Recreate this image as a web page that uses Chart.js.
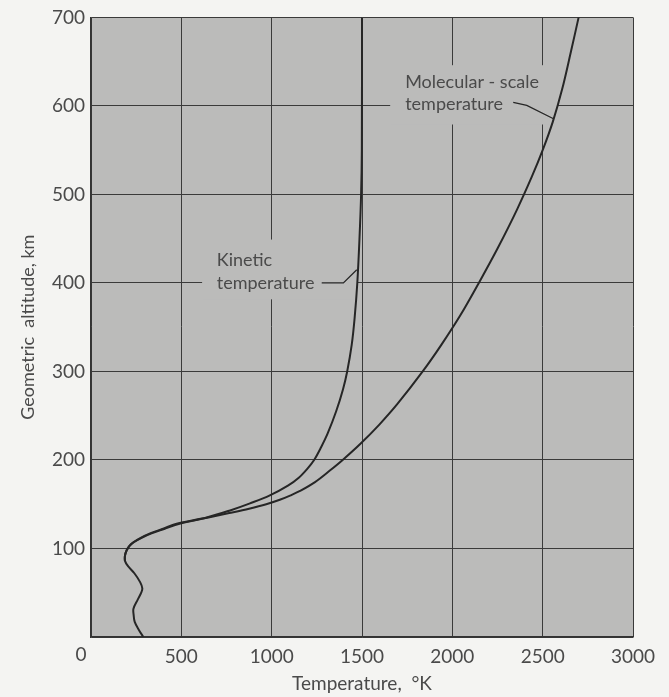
<!DOCTYPE html>
<html>
<head>
<meta charset="utf-8">
<script src="https://cdn.jsdelivr.net/npm/chart.js@4"></script>
<style>
  html, body { margin: 0; padding: 0; background: #f4f4f2; }
  canvas { display: block; }
</style>
</head>
<body>
<canvas id="c" width="669" height="697"></canvas>
<script>
// ---- Data ----
const xTickValues = [0, 500, 1000, 1500, 2000, 2500, 3000];
const yTickValues = [0, 100, 200, 300, 400, 500, 600, 700];

// Kinetic temperature: altitude (km) and temperature (K)
const kineticAlt  = [0, 8, 17, 25, 32, 42, 50, 55, 62, 72, 80, 86, 92, 98, 103, 107, 112, 117, 122, 128, 135, 143, 151, 160, 171, 180, 190, 200, 215, 230, 255, 280, 300, 330, 360, 400, 450, 500, 550, 700];
const kineticTemp = [290, 265, 242, 236, 235, 258, 278, 284, 272, 240, 205, 188, 188, 197, 212, 234, 275, 327, 395, 474, 640, 770, 880, 990, 1090, 1150, 1197, 1235, 1275, 1310, 1357, 1395, 1418, 1443, 1459, 1474, 1486, 1495, 1499, 1500];

// Molecular-scale temperature: altitude (km) and temperature (K)
const molecularAlt  = [86, 92, 98, 103, 107, 112, 117, 122, 128, 135, 140, 145, 150, 155, 160, 165, 175, 188, 200, 218, 240, 263, 300, 330, 364, 402, 440, 482, 520, 550, 582, 619, 660, 700];
const molecularTemp = [188, 188, 198, 214, 237, 280, 335, 405, 490, 650, 765, 875, 970, 1045, 1105, 1157, 1240, 1322, 1393, 1490, 1596, 1695, 1836, 1939, 2046, 2152, 2253, 2356, 2440, 2500, 2556, 2608, 2655, 2699];

// Leader lines from labels to curves
const kineticLeaderTemp = [1277, 1397, 1471];
const kineticLeaderAlt  = [400, 400, 415];
const molecularLeaderTemp = [2337, 2412, 2560];
const molecularLeaderAlt  = [604, 600.5, 585.5];

// Curve labels
const kineticLabelLines = ['Kinetic', 'temperature'];
const molecularLabelLines = ['Molecular - scale', 'temperature'];

// ---- Annotation placement (data units) ----
const annotations = [
  { lines: kineticLabelLines, t: 696, altTop: 425.4, altStep: 25.6,
    mask: { t0: 615, t1: 1473, a0: 381.5, a1: 449 } },
  { lines: molecularLabelLines, t: 1739, altTop: 627, altStep: 24.6,
    mask: { t0: 1656, t1: 2582, a0: 579, a1: 646 } }
];

const FONT = 'Lato, "DejaVu Sans", sans-serif';
const PAGE_BG = '#f4f4f2';
const PLOT_BG = '#bbbbba';
const INK = '#262626';
const TEXT = '#4a4a4a';

const toXY = (alts, temps) => alts.map((a, i) => ({ x: temps[i], y: a }));

const paperPlugin = {
  id: 'paper',
  beforeDraw(chart) {
    const { ctx, chartArea: a } = chart;
    ctx.save();
    ctx.fillStyle = PAGE_BG;
    ctx.fillRect(0, 0, chart.width, chart.height);
    ctx.fillStyle = PLOT_BG;
    ctx.fillRect(a.left, a.top, a.right - a.left, a.bottom - a.top);
    ctx.restore();
  },
  beforeDatasetsDraw(chart) {
    const { ctx } = chart;
    const xs = chart.scales.x, ys = chart.scales.y;
    ctx.save();
    annotations.forEach(an => {
      const m = an.mask;
      const x0 = xs.getPixelForValue(m.t0), x1 = xs.getPixelForValue(m.t1);
      const y0 = ys.getPixelForValue(m.a1), y1 = ys.getPixelForValue(m.a0);
      ctx.fillStyle = PLOT_BG;
      ctx.fillRect(x0, y0, x1 - x0, y1 - y0);
      ctx.fillStyle = TEXT;
      ctx.font = '18px ' + FONT;
      ctx.textAlign = 'left';
      ctx.textBaseline = 'middle';
      an.lines.forEach((ln, i) => {
        ctx.fillText(ln, xs.getPixelForValue(an.t), ys.getPixelForValue(an.altTop - i * an.altStep));
      });
    });
    ctx.restore();
  },
  afterDraw(chart) {
    const { ctx } = chart;
    const xs = chart.scales.x, ys = chart.scales.y;
    ctx.save();
    ctx.fillStyle = TEXT;
    ctx.font = '19px ' + FONT;
    ctx.textAlign = 'center';
    ctx.textBaseline = 'middle';
    ctx.fillText(String(xTickValues[0]), xs.getPixelForValue(0) - 10, ys.getPixelForValue(0) + 18);
    ctx.restore();
  }
};

const curveStyle = { showLine: true, borderColor: INK, borderWidth: 2, pointRadius: 0,
                     tension: 0.35, fill: false };
const leaderStyle = { showLine: true, borderColor: INK, borderWidth: 1.3, pointRadius: 0,
                      tension: 0, fill: false };

new Chart(document.getElementById('c'), {
  type: 'scatter',
  data: {
    datasets: [
      Object.assign({ label: 'Kinetic temperature', data: toXY(kineticAlt, kineticTemp) }, curveStyle),
      Object.assign({ label: 'Molecular-scale temperature', data: toXY(molecularAlt, molecularTemp) }, curveStyle),
      Object.assign({ label: 'k-leader', data: toXY(kineticLeaderAlt, kineticLeaderTemp) }, leaderStyle),
      Object.assign({ label: 'm-leader', data: toXY(molecularLeaderAlt, molecularLeaderTemp) }, leaderStyle)
    ]
  },
  options: {
    responsive: false,
    animation: false,
    layout: { padding: { top: 15, right: 36, left: 0, bottom: 0 } },
    plugins: { legend: { display: false }, tooltip: { enabled: false } },
    scales: {
      x: {
        type: 'linear', position: 'bottom',
        min: xTickValues[0], max: xTickValues[xTickValues.length - 1],
        afterBuildTicks: s => { s.ticks = xTickValues.map(v => ({ value: v })); },
        afterFit: s => { s.height = 60; },
        grid: { color: '#3a3a3a', lineWidth: 1, drawTicks: false },
        border: { color: '#333', width: 1.5 },
        ticks: { padding: 8, color: TEXT, autoSkip: false, maxRotation: 0,
                 font: { family: FONT, size: 19 },
                 callback: v => (v === 0 ? '' : String(v)) },
        title: { display: true, text: 'Temperature,  °K', color: TEXT,
                 font: { family: FONT, size: 19 }, padding: { top: 0, bottom: 2 } }
      },
      y: {
        type: 'linear', position: 'left',
        min: yTickValues[0], max: yTickValues[yTickValues.length - 1],
        afterBuildTicks: s => { s.ticks = yTickValues.map(v => ({ value: v })); },
        afterFit: s => { s.width = 91; },
        grid: { color: '#3a3a3a', lineWidth: 1, drawTicks: false },
        border: { color: '#333', width: 1.5 },
        ticks: { padding: 6, color: TEXT, autoSkip: false,
                 font: { family: FONT, size: 19 },
                 callback: v => (v === 0 ? '' : String(v)) },
        title: { display: true, text: 'Geometric  altitude, km', color: TEXT,
                 font: { family: FONT, size: 18 }, padding: { top: 17, bottom: 0 } }
      }
    }
  },
  plugins: [paperPlugin]
});
</script>
</body>
</html>
